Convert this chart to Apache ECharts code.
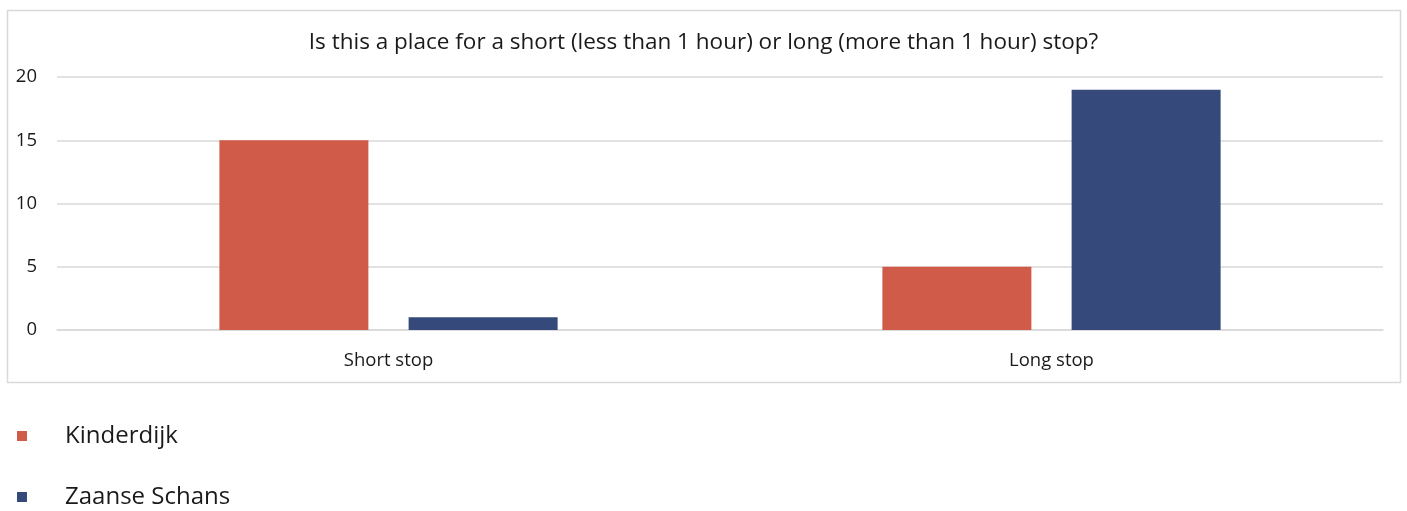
<!DOCTYPE html>
<html><head><meta charset="utf-8">
<script src="https://cdn.jsdelivr.net/npm/echarts@6/dist/echarts.min.js"></script>
<style>html,body{margin:0;padding:0;background:#fff}#c{width:1407px;height:511px}</style>
</head><body><div id="c"></div>
<script>
const categories = ['Short stop', 'Long stop'];
const kinderdijk = [15, 5];
const zaanseSchans = [1, 19];
const yTicks = [0, 5, 10, 15, 20];

const chart = echarts.init(document.getElementById('c'));
const font = '"Open Sans", "Noto Sans", sans-serif';
const legendBase = {
  orient: 'vertical', left: 12, padding: 5,
  itemWidth: 10, itemHeight: 10,
  icon: 'rect',
  textStyle: { fontFamily: font, fontSize: 24, color: '#1a1a1a', padding: [0, 0, 0, 33], lineHeight: 30 }
};
chart.setOption({
  animation: false,
  textStyle: { fontFamily: font },
  title: {
    text: 'Is this a place for a short (less than 1 hour) or long (more than 1 hour) stop?',
    left: 'center', top: 26,
    textStyle: { fontFamily: font, fontSize: 22.5, fontWeight: 'normal', color: '#1a1a1a' }
  },
  graphic: [{
    type: 'rect', left: 5, top: 8, z: -1,
    shape: { width: 1393, height: 372 },
    style: { fill: 'none', stroke: '#d9d9d9', lineWidth: 1.5 }
  }],
  legend: [
    Object.assign({}, legendBase, { top: 416, data: ['Kinderdijk'] }),
    Object.assign({}, legendBase, { top: 477, data: ['Zaanse Schans'] })
  ],
  grid: { left: 57, right: 24, top: 77, bottom: 181, containLabel: false },
  xAxis: {
    type: 'category', data: categories,
    axisLine: { lineStyle: { color: '#d9d9d9', width: 1.5 } },
    axisTick: { show: false },
    axisLabel: { fontFamily: font, fontSize: 18.5, color: '#1a1a1a', margin: 21 }
  },
  yAxis: {
    type: 'value', min: yTicks[0], max: yTicks[yTicks.length - 1], interval: 5,
    axisLine: { show: false }, axisTick: { show: false },
    splitLine: { lineStyle: { color: '#d9d9d9', width: 1.5 } },
    axisLabel: { fontFamily: font, fontSize: 18.5, color: '#1a1a1a', margin: 20 }
  },
  series: [
    { name: 'Kinderdijk', type: 'bar', data: kinderdijk, barWidth: 149, barGap: '27%',
      itemStyle: { color: '#CF5B48' } },
    { name: 'Zaanse Schans', type: 'bar', data: zaanseSchans, barWidth: 149,
      itemStyle: { color: '#35497A' } }
  ]
});
</script></body></html>
